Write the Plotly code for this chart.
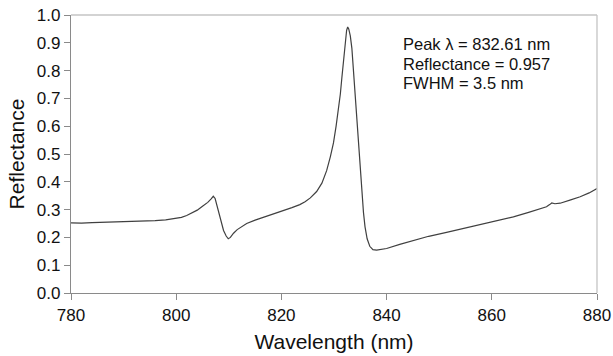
import plotly.graph_objects as go

wavelength = [780, 782, 784, 786, 788, 790, 792, 794, 796, 798, 800, 801, 802, 803, 804, 805, 806,
              806.6, 807.05, 807.4, 807.7, 808.0, 808.3, 808.7, 809.0, 809.5, 809.9, 810.3, 810.9,
              811.6, 812.5, 813.4, 815, 816.6, 818, 819.7, 821, 822, 823.5, 824.5, 825.5, 826.7,
              827.7, 828.6, 829.3, 829.9, 830.4, 830.8, 831.2, 831.5, 831.8, 832.1, 832.4, 832.6,
              832.8, 833.1, 833.4, 833.7, 834.0, 834.3, 834.6, 835.0, 835.3, 835.6, 835.9, 836.3,
              836.8, 837.4, 838.1, 839, 840, 842.5, 845.1, 848, 851.4, 854, 857.8, 861, 864.1, 867,
              870.4, 871.0, 871.4, 872, 873, 875, 876.8, 878.5, 880]
reflectance = [0.252, 0.251, 0.253, 0.254, 0.254, 0.256, 0.257, 0.258, 0.260, 0.263, 0.268, 0.272,
               0.279, 0.288, 0.298, 0.312, 0.326, 0.338, 0.348, 0.340, 0.318, 0.292, 0.270, 0.245,
               0.225, 0.205, 0.195, 0.200, 0.215, 0.228, 0.240, 0.250, 0.262, 0.272, 0.281, 0.292,
               0.300, 0.307, 0.318, 0.328, 0.342, 0.365, 0.395, 0.440, 0.490, 0.540, 0.600, 0.655,
               0.715, 0.775, 0.840, 0.900, 0.945, 0.957, 0.950, 0.925, 0.880, 0.800, 0.715, 0.625,
               0.535, 0.440, 0.360, 0.290, 0.238, 0.195, 0.168, 0.156, 0.154, 0.156, 0.160, 0.175,
               0.190, 0.204, 0.218, 0.229, 0.245, 0.259, 0.274, 0.290, 0.310, 0.318, 0.324, 0.321,
               0.323, 0.335, 0.346, 0.360, 0.376]

x_ticks = [780, 800, 820, 840, 860, 880]
y_ticks = [0.0, 0.1, 0.2, 0.3, 0.4, 0.5, 0.6, 0.7, 0.8, 0.9, 1.0]
annotation_lines = ["Peak \u03bb = 832.61 nm", "Reflectance = 0.957", "FWHM = 3.5 nm"]

FONT = "Liberation Sans, Arial, sans-serif"

fig = go.Figure()
fig.add_trace(go.Scatter(x=wavelength, y=reflectance, mode="lines",
                         line=dict(color="#404040", width=1.2), showlegend=False,
                         hoverinfo="skip"))

fig.update_layout(
    width=613, height=356,
    margin=dict(l=71, r=16, t=15, b=63),
    paper_bgcolor="white", plot_bgcolor="white",
    font=dict(family=FONT, color="#111111", size=17),
    xaxis=dict(range=[780, 880], tickvals=x_ticks, ticktext=[str(v) for v in x_ticks],
               automargin=False,
               showgrid=False, zeroline=False, showline=True, linecolor="#8a8a8a", linewidth=1.3,
               ticks="outside", ticklen=6, tickcolor="#8a8a8a", tickwidth=1.3,
               tickfont=dict(size=17, family=FONT, color="#111111"),
               title=dict(text="Wavelength (nm)", font=dict(size=21, family=FONT, color="#111111"),
                          standoff=10)),
    yaxis=dict(range=[0, 1], tickvals=y_ticks, ticktext=[f"{v:.1f}" for v in y_ticks],
               automargin=False,
               showgrid=False, zeroline=False, showline=True, linecolor="#8a8a8a", linewidth=1.3,
               ticks="outside", ticklen=6, tickcolor="#8a8a8a", tickwidth=1.3,
               tickfont=dict(size=17, family=FONT, color="#111111"),
               title=dict(text="Reflectance", font=dict(size=21, family=FONT, color="#111111"),
                          standoff=6)),
    shapes=[
        dict(type="line", xref="paper", yref="paper", x0=0, x1=1, y0=1, y1=1,
             line=dict(color="#c4c4c4", width=1.3)),
        dict(type="line", xref="paper", yref="paper", x0=1, x1=1, y0=0, y1=1,
             line=dict(color="#c4c4c4", width=1.3)),
    ],
)

y_positions = [0.894, 0.824, 0.754]
for txt, yp in zip(annotation_lines, y_positions):
    fig.add_annotation(text=txt, xref="paper", yref="paper", x=0.628, y=yp,
                       xanchor="left", yanchor="middle", showarrow=False,
                       font=dict(size=16.5, family=FONT, color="#111111"))

fig.write_html("out.html", config={"displayModeBar": False},
               post_script="document.body.style.margin='0';document.body.style.overflow='hidden';")
